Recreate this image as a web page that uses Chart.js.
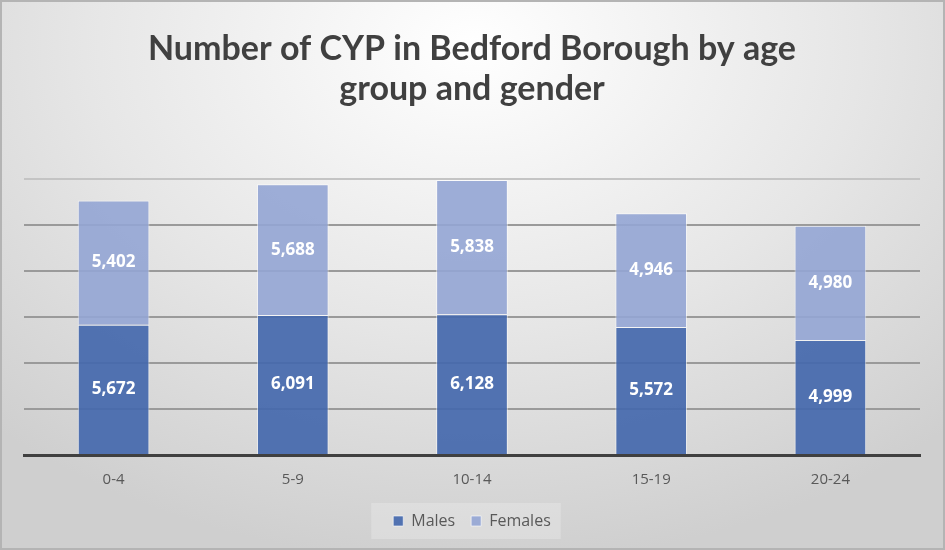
<!DOCTYPE html>
<html>
<head>
<meta charset="utf-8">
<script src="https://cdn.jsdelivr.net/npm/chart.js@4.4.0/dist/chart.umd.min.js"></script>
<style>
  html, body { margin: 0; padding: 0; }
  #wrap {
    width: 945px; height: 550px; box-sizing: border-box;
    border: 2px solid #b4b4b4;
    background: radial-gradient(ellipse 75% 95% at 50% 8%, #ffffff 0%, #e6e6e6 55%, #cfcfcf 100%);
  }
  canvas { display: block; }
</style>
</head>
<body>
<div id="wrap"><canvas id="cyp" width="941" height="546"></canvas></div>
<script>
const ageGroups = ['0-4', '5-9', '10-14', '15-19', '20-24'];
const males = [5672, 6091, 6128, 5572, 4999];
const females = [5402, 5688, 5838, 4946, 4980];
const yTicks = [0, 2000, 4000, 6000, 8000, 10000, 12000];

// white value labels in the middle of each segment
const barLabels = {
    id: 'barLabels',
    afterDatasetsDraw(chart) {
        const ctx = chart.ctx;
        ctx.save();
        ctx.fillStyle = '#ffffff';
        ctx.font = 'bold 17px "Open Sans", sans-serif';
        ctx.textAlign = 'center';
        ctx.textBaseline = 'middle';
        chart.data.datasets.forEach((ds, i) => {
            chart.getDatasetMeta(i).data.forEach((bar, j) => {
                const mid = (bar.y + bar.base) / 2;
                ctx.fillText(ds.data[j].toLocaleString('en-GB'), bar.x, mid);
            });
        });
        ctx.restore();
    }
};

// faint lighter box behind the legend, like the original
const legendBox = {
    id: 'legendBox',
    beforeDraw(chart) {
        const boxes = chart.legend.legendHitBoxes;
        if (!boxes || !boxes.length) return;
        const left = Math.min(...boxes.map(b => b.left)) - 22;
        const right = Math.max(...boxes.map(b => b.left + b.width)) + 10;
        const top = boxes[0].top - 10;
        const ctx = chart.ctx;
        ctx.save();
        ctx.fillStyle = 'rgba(255, 255, 255, 0.22)';
        ctx.fillRect(left, top, right - left, boxes[0].height + 20);
        ctx.restore();
    }
};

document.addEventListener('DOMContentLoaded', () => {
    const ctx = document.getElementById('cyp').getContext('2d');

    new Chart(ctx, {
        type: 'bar',
        data: {
            labels: ageGroups,
            datasets: [
                {
                    label: 'Males',
                    data: males,
                    backgroundColor: 'rgba(68, 104, 172, 0.92)',
                    borderColor: 'rgba(255, 255, 255, 0.6)',
                    borderWidth: 1
                },
                {
                    label: 'Females',
                    data: females,
                    backgroundColor: 'rgba(148, 165, 212, 0.9)',
                    borderColor: 'rgba(255, 255, 255, 0.6)',
                    borderWidth: 1
                }
            ]
        },
        options: {
            responsive: false,
            animation: false,
            layout: { padding: { left: 22, right: 23, top: 0, bottom: 9 } },
            datasets: { bar: { categoryPercentage: 0.8, barPercentage: 0.5 } },
            scales: {
                x: {
                    stacked: true,
                    grid: { display: false },
                    border: { display: true, color: '#404040', width: 3 },
                    ticks: { color: '#595959', font: { size: 15, family: '"Open Sans", sans-serif' }, padding: 8 }
                },
                y: {
                    stacked: true,
                    min: 0,
                    max: 12000,
                    afterBuildTicks: (axis) => { axis.ticks = yTicks.map(v => ({ value: v })); },
                    ticks: { display: false },
                    border: { display: false },
                    grid: {
                        color: (c) => c.index === yTicks.length - 1 ? '#c4c4c4' : '#9a9a9a',
                        lineWidth: 2,
                        drawTicks: false
                    }
                }
            },
            plugins: {
                title: {
                    display: true,
                    text: ['Number of CYP in Bedford Borough by age', 'group and gender'],
                    color: '#404040',
                    font: { size: 34, weight: 'bold', family: 'Lato, sans-serif', lineHeight: 1.18 },
                    padding: { top: 27, bottom: 70 }
                },
                legend: {
                    position: 'bottom',
                    labels: {
                        color: '#595959',
                        boxWidth: 10,
                        boxHeight: 10,
                        padding: 16,
                        font: { size: 16, family: '"Open Sans", sans-serif' }
                    }
                },
                tooltip: { enabled: false }
            }
        },
        plugins: [legendBox, barLabels]
    });
});
</script>
</body>
</html>
